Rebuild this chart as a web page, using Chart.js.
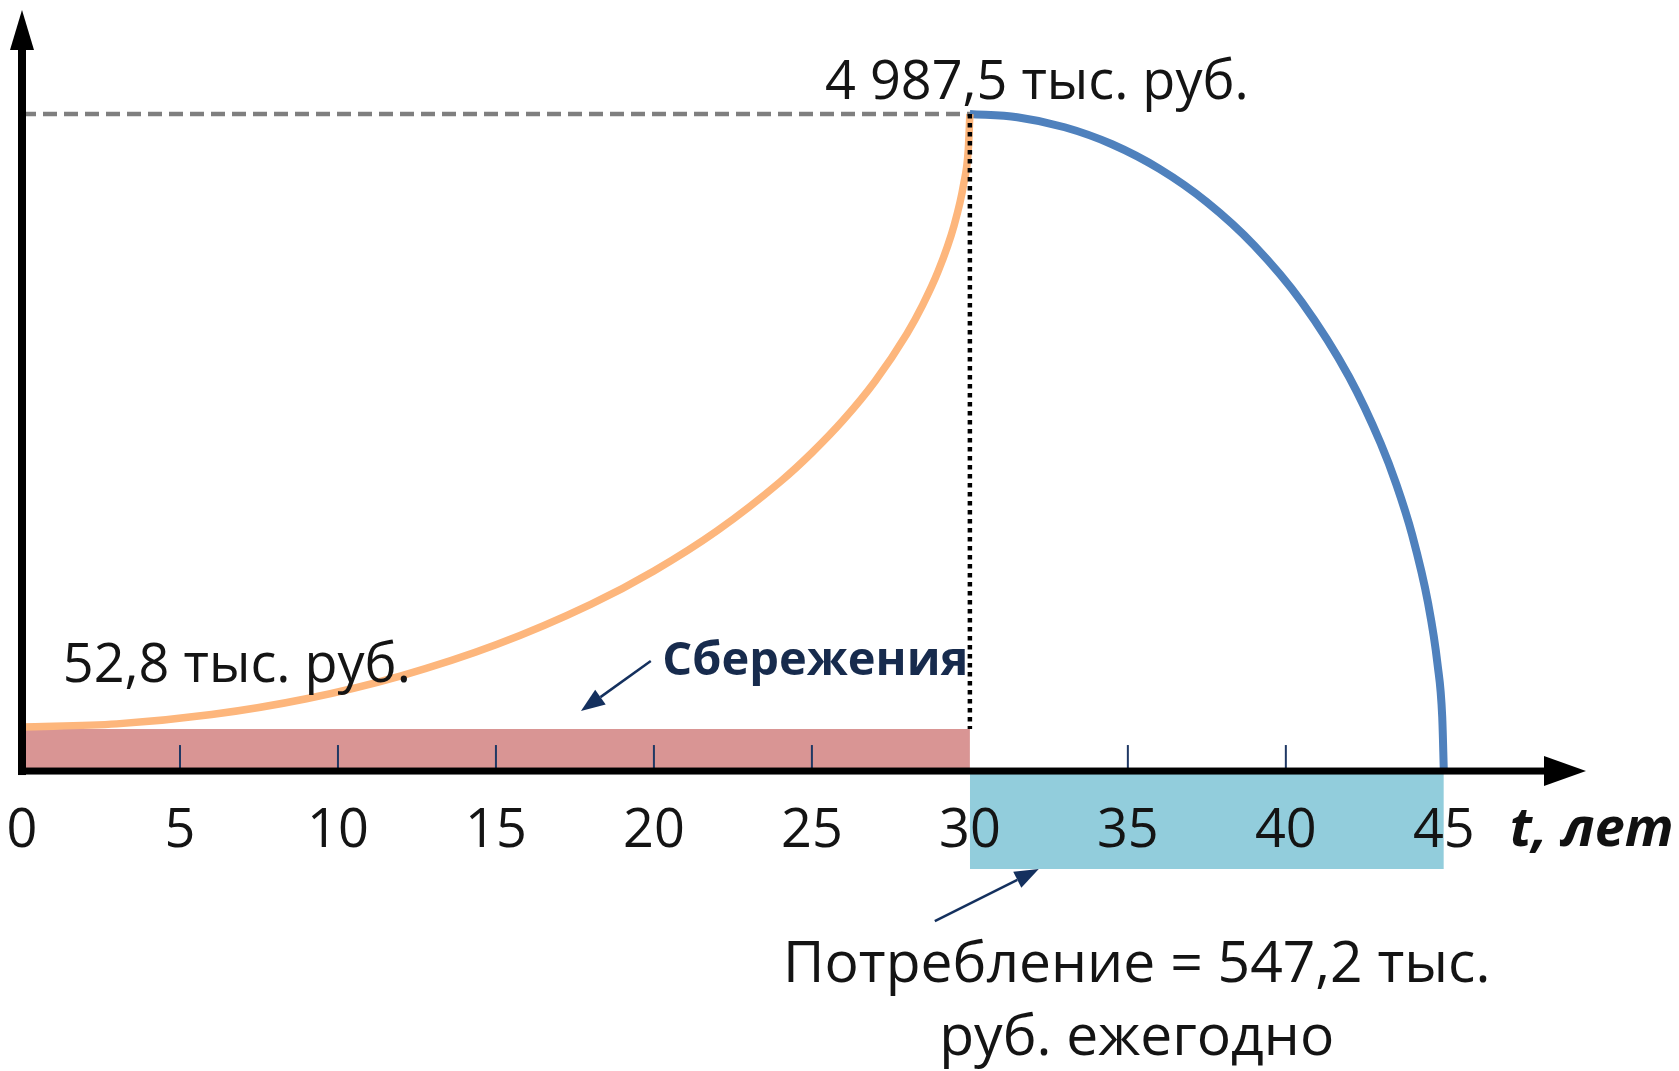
<!DOCTYPE html>
<html><head><meta charset="utf-8">
<script src="https://cdn.jsdelivr.net/npm/chart.js@4.4.1/dist/chart.umd.min.js"></script>
<style>html,body{margin:0;padding:0;background:#fff;}canvas{display:block;}</style>
</head><body>
<canvas id="c" width="1679" height="1071"></canvas>
<script>
// ---- data (y in тыс. руб., schematic scale of the drawing) ----
const tickYears = [0, 5, 10, 15, 20, 25, 30, 35, 40, 45];
const tickLabels = ['0', '5', '10', '15', '20', '25', '30', '35', '40', '45'];
const tickMarkYears = [5, 10, 15, 20, 25, 35, 40];

const savingsYears  = [0, 3, 6, 9, 12, 15, 18, 20, 22, 24, 25, 26, 27, 28, 28.5, 29, 29.5, 29.8, 29.95, 30];
const savingsValues = [335, 358, 429, 549, 723, 958, 1265, 1519, 1824, 2196, 2416, 2666, 2959, 3317, 3535, 3796, 4142, 4451, 4719, 4987.5];

const spendYears  = [30, 31.5, 33, 34.5, 36, 37.5, 39, 40.5, 42, 43, 43.5, 44, 44.5, 44.8, 44.95, 45];
const spendValues = [4987.5, 4963, 4887, 4758, 4571, 4319, 3990, 3562, 2993, 2488, 2174, 1791, 1277, 812, 407, 0];

const contribYears = [0, 30];
const contribLevel = [319, 319];
const consumeYears = [30, 45];
const consumeLevel = [-744, -744];

const peakYear = 30;
const peakValue = 4987.5;

const pts = (xs, ys) => xs.map((x, i) => ({x: x, y: ys[i]}));

// ---- annotations (text & arrows, in data units) ----
const notes = [
  {text: '4 987,5 тыс. руб.', x: 32.12, y: 5101, font: '400 54px "Open Sans"', color: '#141414', align: 'center'},
  {text: '52,8 тыс. руб.', x: 6.8, y: 676, font: '400 54px "Open Sans"', color: '#141414', align: 'center'},
  {text: 'Сбережения', x: 25.11, y: 729, font: '700 47px "Open Sans"', color: '#172B4D', align: 'center'},
  {text: 'Потребление = 547,2 тыс.', x: 35.28, y: -1602, font: '400 57px "Open Sans"', color: '#141414', align: 'center'},
  {text: 'руб. ежегодно', x: 35.28, y: -2156, font: '400 57px "Open Sans"', color: '#141414', align: 'center'},
  {text: 't, лет', x: 47.09, y: -569, font: 'italic 700 54px "Open Sans"', color: '#111111', align: 'left'}
];
const arrows = [
  {from: [19.9, 835], to: [17.69, 455]},
  {from: [28.89, -1139], to: [32.18, -744]}
];

const axesPlugin = {
  id: 'axesArrows',
  afterDatasetsDraw(chart) {
    const {ctx, chartArea: a, scales: {x, y}} = chart;
    const x0 = x.getPixelForValue(0), y0 = y.getPixelForValue(0);
    ctx.save();
    ctx.strokeStyle = '#1F3864';
    ctx.lineWidth = 2;
    tickMarkYears.forEach(v => {
      const px = x.getPixelForValue(v);
      ctx.beginPath(); ctx.moveTo(px, y0 - 3); ctx.lineTo(px, y0 - 26); ctx.stroke();
    });
    ctx.fillStyle = '#000';
    ctx.fillRect(x0 - 4, y0 - 3.5, (a.right - 40) - (x0 - 4), 7);
    ctx.beginPath(); ctx.moveTo(a.right, y0); ctx.lineTo(a.right - 42, y0 - 15); ctx.lineTo(a.right - 42, y0 + 15); ctx.closePath(); ctx.fill();
    ctx.fillRect(x0 - 4, a.top + 38, 8, (y0 + 4) - (a.top + 38));
    ctx.beginPath(); ctx.moveTo(x0, a.top); ctx.lineTo(x0 - 12, a.top + 40); ctx.lineTo(x0 + 12, a.top + 40); ctx.closePath(); ctx.fill();
    ctx.restore();
  }
};

const notesPlugin = {
  id: 'notes',
  afterDraw(chart) {
    const {ctx, scales: {x, y}} = chart;
    ctx.save();
    ctx.textBaseline = 'alphabetic';
    notes.forEach(n => {
      ctx.font = n.font; ctx.fillStyle = n.color; ctx.textAlign = n.align;
      ctx.fillText(n.text, x.getPixelForValue(n.x), y.getPixelForValue(n.y));
    });
    ctx.strokeStyle = '#14305E'; ctx.fillStyle = '#14305E'; ctx.lineWidth = 2.5;
    arrows.forEach(ar => {
      const x1 = x.getPixelForValue(ar.from[0]), y1 = y.getPixelForValue(ar.from[1]);
      const x2 = x.getPixelForValue(ar.to[0]), y2 = y.getPixelForValue(ar.to[1]);
      const ang = Math.atan2(y2 - y1, x2 - x1), L = 24, W = 9;
      const bx = x2 - L * Math.cos(ang), by = y2 - L * Math.sin(ang);
      ctx.beginPath(); ctx.moveTo(x1, y1); ctx.lineTo(bx, by); ctx.stroke();
      ctx.beginPath(); ctx.moveTo(x2, y2);
      ctx.lineTo(bx + W * Math.sin(ang), by - W * Math.cos(ang));
      ctx.lineTo(bx - W * Math.sin(ang), by + W * Math.cos(ang));
      ctx.closePath(); ctx.fill();
    });
    ctx.restore();
  }
};

new Chart(document.getElementById('c').getContext('2d'), {
  type: 'line',
  data: {
    datasets: [
      {label: 'dotted', data: [{x: peakYear, y: peakValue}, {x: peakYear, y: contribLevel[1]}], borderColor: '#000', borderWidth: 4.5, borderDash: [4.5, 4.5], pointRadius: 0, fill: false, order: 0},
      {label: 'dashed', data: [{x: 0, y: peakValue}, {x: peakYear, y: peakValue}], borderColor: '#7F7F7F', borderWidth: 4.5, borderDash: [14, 7], pointRadius: 0, fill: false, order: 1},
      {label: 'Накопления', data: pts(savingsYears, savingsValues), borderColor: '#FDB67C', borderWidth: 7.5, cubicInterpolationMode: 'monotone', pointRadius: 0, fill: false, order: 2},
      {label: 'Расходование', data: pts(spendYears, spendValues), borderColor: '#4F81BD', borderWidth: 8, cubicInterpolationMode: 'monotone', pointRadius: 0, fill: false, order: 3},
      {label: 'Сбережения', data: pts(contribYears, contribLevel), borderWidth: 0, borderColor: 'rgba(0,0,0,0)', backgroundColor: '#D99594', fill: 'origin', pointRadius: 0, order: 4},
      {label: 'Потребление', data: pts(consumeYears, consumeLevel), borderWidth: 0, borderColor: 'rgba(0,0,0,0)', backgroundColor: '#92CDDC', fill: 'origin', pointRadius: 0, order: 5}
    ]
  },
  options: {
    responsive: false, animation: false, devicePixelRatio: 1,
    layout: {padding: {left: 22, right: 93, top: 10, bottom: 0}},
    plugins: {legend: {display: false}, tooltip: {enabled: false}},
    scales: {
      x: {
        type: 'linear', min: 0, max: 49.5, position: {y: 0},
        afterBuildTicks: (ax) => { ax.ticks = tickYears.map(v => ({value: v})); },
        afterFit: (s) => { s.height = 0; s.paddingLeft = 0; s.paddingRight = 0; },
        grid: {display: false, drawTicks: false}, border: {display: false},
        ticks: {autoSkip: false, maxRotation: 0, padding: 28, z: 1, color: '#141414',
          font: {family: 'Open Sans', size: 54},
          callback: (v, i) => tickLabels[i]}
      },
      y: {type: 'linear', min: -2277, max: 5777, display: false}
    }
  },
  plugins: [axesPlugin, notesPlugin]
});
</script>
</body></html>
